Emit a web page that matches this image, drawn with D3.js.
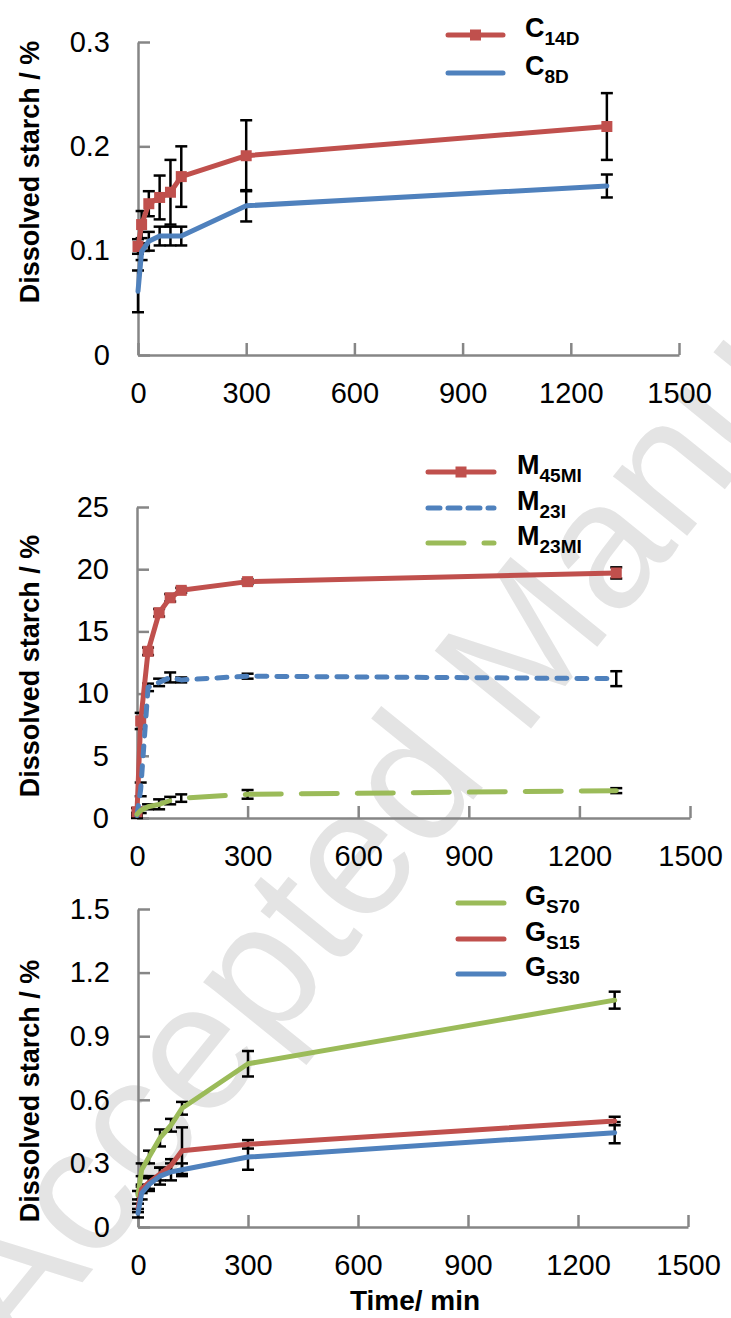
<!DOCTYPE html>
<html><head><meta charset="utf-8">
<script src="https://cdn.jsdelivr.net/npm/d3@7"></script>
<style>body{margin:0;background:#fff} svg{display:block}</style>
</head><body>
<svg id="c" width="731" height="1318"></svg>
<script>
// ---------- data ----------
const times = [0, 10, 30, 60, 90, 120, 300, 1300];
const xTicks = [0, 300, 600, 900, 1200, 1500];
const xTickLabels = ["0", "300", "600", "900", "1200", "1500"];

// panel 1 (C)
const yTicks1 = [0, 0.1, 0.2, 0.3];
const yTickLabels1 = ["0", "0.1", "0.2", "0.3"];
const c14d    = [0.104, 0.125, 0.145, 0.151, 0.156, 0.171, 0.191, 0.219];
const c14dErr = [0.007, 0.013, 0.012, 0.021, 0.031, 0.029, 0.034, 0.032];
const c8d     = [0.061, 0.099, 0.109, 0.114, 0.114, 0.114, 0.143, 0.162];
const c8dErr  = [0.020, 0.008, 0.009, 0.009, 0.009, 0.009, 0.015, 0.011];

// panel 2 (M)
const yTicks2 = [0, 5, 10, 15, 20, 25];
const yTickLabels2 = ["0", "5", "10", "15", "20", "25"];
const m45mi    = [0.5, 7.8, 13.4, 16.5, 17.7, 18.3, 19.0, 19.7];
const m45miErr = [0.3, 0.65, 0.3, 0.3, 0.3, 0.2, 0.2, 0.45];
const m23i     = [0.2, 2.3, 10.5, 10.9, 11.3, 11.1, 11.4, 11.2];
const m23iErr  = [0.2, 0.55, 0.3, 0.3, 0.4, 0.2, 0.2, 0.6];
const m23mi    = [0.3, 0.6, 0.9, 1.1, 1.4, 1.6, 1.9, 2.2];
const m23miErr = [0.1, 0.2, 0.2, 0.4, 0.3, 0.3, 0.35, 0.2];

// panel 3 (G)
const yTicks3 = [0, 0.3, 0.6, 0.9, 1.2, 1.5];
const yTickLabels3 = ["0", "0.3", "0.6", "0.9", "1.2", "1.5"];
const gs70    = [0.15, 0.27, 0.33, 0.42, 0.48, 0.56, 0.77, 1.07];
const gs70Err = [0.02, 0.03, 0.03, 0.04, 0.03, 0.03, 0.06, 0.04];
const gs15    = [0.09, 0.18, 0.21, 0.25, 0.29, 0.36, 0.39, 0.50];
const gs15Err = [0.02, 0.02, 0.03, 0.03, 0.03, 0.11, 0.02, 0.02];
const gs30    = [0.065, 0.16, 0.20, 0.24, 0.26, 0.27, 0.33, 0.445];
const gs30Err = [0.02, 0.03, 0.03, 0.04, 0.04, 0.03, 0.06, 0.05];

const yTitle = "Dissolved starch / %";
const xTitle = "Time/ min";
const watermark = "Accepted Manu";

// ---------- drawing ----------
const RED = "#C0504D", BLUE = "#4F81BD", GREEN = "#9BBB59", AXIS = "#868686";
const FONT = "'Liberation Sans', Arial, sans-serif";
const svg = d3.select("#c");

// watermark (as in the reference, only the part inside the page)
svg.append("text")
  .attr("transform", "translate(18,1362) rotate(-51)")
  .attr("font-family", FONT).attr("font-size", 180)
  .attr("fill", "#e4e4e4")
  .text(watermark);

function panel(o) {
  const x = d3.scaleLinear().domain([0, 1500]).range([o.x0, o.x1]);
  const y = d3.scaleLinear().domain([0, o.yTicks[o.yTicks.length - 1]]).range([o.yb, o.yt]);
  const g = svg.append("g");

  const ya = g.append("g").attr("transform", `translate(${o.x0},0)`)
    .call(d3.axisLeft(y).tickValues(o.yTicks)
      .tickFormat((d, i) => o.yLabels[i])
      .tickSizeInner(-12).tickSizeOuter(0).tickPadding(28));
  const xa = g.append("g").attr("transform", `translate(0,${o.yb})`)
    .call(d3.axisBottom(x).tickValues(xTicks)
      .tickFormat((d, i) => xTickLabels[i])
      .tickSizeInner(-12).tickSizeOuter(0).tickPadding(27));
  [ya, xa].forEach(a => {
    a.selectAll("path.domain").attr("stroke", AXIS).attr("stroke-width", 2.5);
    a.selectAll(".tick line").attr("stroke", AXIS).attr("stroke-width", 2.5);
    a.selectAll(".tick text").attr("font-family", FONT).attr("font-size", 29).attr("fill", "#000");
  });

  g.append("text")
    .attr("transform", `translate(39,${o.titleCy}) rotate(-90)`)
    .attr("text-anchor", "middle")
    .attr("font-family", FONT).attr("font-weight", "bold").attr("font-size", 27)
    .text(yTitle);

  o.series.forEach(s => {
    const eb = g.append("g").attr("stroke", "#000").attr("stroke-width", 2.5);
    times.forEach((t, i) => {
      const cx = x(t), y1 = y(s.values[i] - s.err[i]), y2 = y(s.values[i] + s.err[i]);
      eb.append("line").attr("x1", cx).attr("x2", cx).attr("y1", y1).attr("y2", y2);
      eb.append("line").attr("x1", cx - 6).attr("x2", cx + 6).attr("y1", y1).attr("y2", y1);
      eb.append("line").attr("x1", cx - 6).attr("x2", cx + 6).attr("y1", y2).attr("y2", y2);
    });
  });
  const line = d3.line().x((d, i) => x(times[i])).y(d => y(d));
  o.series.forEach(s => {
    g.append("path").attr("d", line(s.values))
      .attr("fill", "none").attr("stroke", s.color).attr("stroke-width", 5)
      .attr("stroke-linejoin", "round").attr("stroke-linecap", "round")
      .attr("stroke-dasharray", s.dash || null);
    if (s.marker) {
      g.selectAll(null).data(s.values).enter().append("rect")
        .attr("x", (d, i) => x(times[i]) - 5.5).attr("y", d => y(d) - 5.5)
        .attr("width", 11).attr("height", 11).attr("fill", s.color);
    }
  });

  const L = o.legend;
  o.series.forEach((s, k) => {
    const ly = L.rows[k];
    g.append("line").attr("x1", L.lx1).attr("x2", L.lx2).attr("y1", ly).attr("y2", ly)
      .attr("stroke", s.color).attr("stroke-width", 5).attr("stroke-linecap", "round")
      .attr("stroke-dasharray", s.legendDash || null);
    if (s.marker) {
      const mx = (L.lx1 + L.lx2) / 2;
      g.append("rect").attr("x", mx - 5.5).attr("y", ly - 5.5).attr("width", 11).attr("height", 11).attr("fill", s.color);
    }
    const t = g.append("text").attr("x", L.tx).attr("y", ly + 2)
      .attr("font-family", FONT).attr("font-weight", "bold").attr("font-size", 27).attr("fill", "#000");
    t.append("tspan").text(s.main);
    t.append("tspan").attr("dy", 8).attr("font-size", 19).text(s.sub);
  });
}

panel({
  x0: 138, x1: 679, yb: 355, yt: 42, yTicks: yTicks1, yLabels: yTickLabels1, titleCy: 172,
  series: [
    { values: c14d, err: c14dErr, color: RED, marker: true, main: "C", sub: "14D" },
    { values: c8d, err: c8dErr, color: BLUE, main: "C", sub: "8D" }
  ],
  legend: { lx1: 448, lx2: 503, tx: 525, rows: [35, 73] }
});

panel({
  x0: 137, x1: 690, yb: 818, yt: 507, yTicks: yTicks2, yLabels: yTickLabels2, titleCy: 666,
  series: [
    { values: m45mi, err: m45miErr, color: RED, marker: true, main: "M", sub: "45MI" },
    { values: m23i, err: m23iErr, color: BLUE, dash: "10,10", legendDash: "12,8", main: "M", sub: "23I" },
    { values: m23mi, err: m23miErr, color: GREEN, dash: "36,20", legendDash: "36,20", main: "M", sub: "23MI" }
  ],
  legend: { lx1: 428, lx2: 494, tx: 517, rows: [472, 508, 543] }
});

panel({
  x0: 138, x1: 688, yb: 1227, yt: 909, yTicks: yTicks3, yLabels: yTickLabels3, titleCy: 1091,
  series: [
    { values: gs70, err: gs70Err, color: GREEN, main: "G", sub: "S70" },
    { values: gs15, err: gs15Err, color: RED, main: "G", sub: "S15" },
    { values: gs30, err: gs30Err, color: BLUE, main: "G", sub: "S30" }
  ],
  legend: { lx1: 458, lx2: 504, tx: 525, rows: [903, 939, 974] }
});

svg.append("text").attr("x", 415).attr("y", 1310).attr("text-anchor", "middle")
  .attr("font-family", FONT).attr("font-weight", "bold").attr("font-size", 28)
  .text(xTitle);
</script>
</body></html>
